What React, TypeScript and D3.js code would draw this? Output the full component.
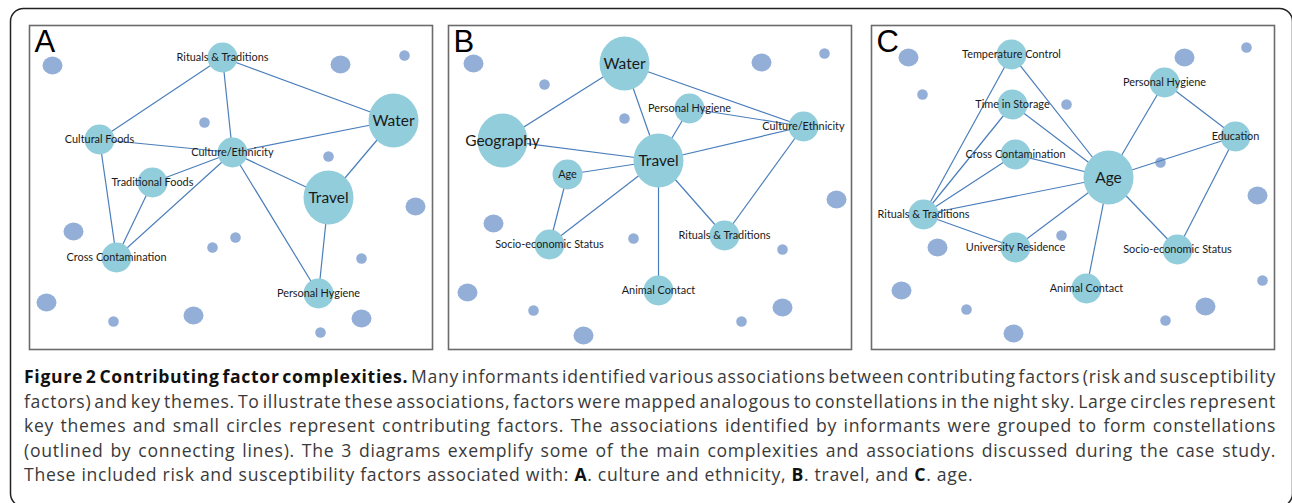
import React from 'react';
import * as d3 from 'd3';

// ---------- DATA ----------
type Kind = 'key' | 'factor';
type NodeD = { id: string; x: number; y: number; kind: Kind };
type Dot = { x: number; y: number; size: 'L' | 'S' };

const panelLetters = ['A', 'B', 'C'];

const nodesA: NodeD[] = [
  { id: 'Rituals & Traditions', x: 193, y: 32, kind: 'factor' },
  { id: 'Water', x: 364, y: 95, kind: 'key' },
  { id: 'Cultural Foods', x: 70, y: 114, kind: 'factor' },
  { id: 'Culture/Ethnicity', x: 203, y: 127, kind: 'factor' },
  { id: 'Traditional Foods', x: 123, y: 157, kind: 'factor' },
  { id: 'Travel', x: 299, y: 172, kind: 'key' },
  { id: 'Cross Contamination', x: 87, y: 232, kind: 'factor' },
  { id: 'Personal Hygiene', x: 289, y: 268, kind: 'factor' },
];
const edgesA: [string, string][] = [
  ['Rituals & Traditions', 'Cultural Foods'],
  ['Rituals & Traditions', 'Culture/Ethnicity'],
  ['Rituals & Traditions', 'Water'],
  ['Cultural Foods', 'Culture/Ethnicity'],
  ['Culture/Ethnicity', 'Water'],
  ['Cultural Foods', 'Cross Contamination'],
  ['Culture/Ethnicity', 'Traditional Foods'],
  ['Culture/Ethnicity', 'Cross Contamination'],
  ['Culture/Ethnicity', 'Travel'],
  ['Culture/Ethnicity', 'Personal Hygiene'],
  ['Traditional Foods', 'Cross Contamination'],
  ['Water', 'Travel'],
  ['Travel', 'Personal Hygiene'],
];
const dotsA: Dot[] = [
  { x: 23, y: 40, size: 'L' }, { x: 311, y: 39, size: 'L' }, { x: 375, y: 30, size: 'S' },
  { x: 175, y: 97, size: 'S' }, { x: 299, y: 131, size: 'S' }, { x: 386, y: 181, size: 'L' },
  { x: 44, y: 206, size: 'L' }, { x: 206, y: 212, size: 'S' }, { x: 183, y: 222, size: 'S' },
  { x: 332, y: 233, size: 'S' }, { x: 17, y: 277, size: 'L' }, { x: 84, y: 296, size: 'S' },
  { x: 164, y: 290, size: 'L' }, { x: 332, y: 293, size: 'L' }, { x: 291, y: 307, size: 'S' },
];

const nodesB: NodeD[] = [
  { id: 'Water', x: 176, y: 38, kind: 'key' },
  { id: 'Geography', x: 54, y: 115, kind: 'key' },
  { id: 'Personal Hygiene', x: 241, y: 83, kind: 'factor' },
  { id: 'Culture/Ethnicity', x: 355, y: 101, kind: 'factor' },
  { id: 'Travel', x: 210, y: 135, kind: 'key' },
  { id: 'Age', x: 119, y: 149, kind: 'factor' },
  { id: 'Socio-economic Status', x: 101, y: 219, kind: 'factor' },
  { id: 'Rituals & Traditions', x: 276, y: 210, kind: 'factor' },
  { id: 'Animal Contact', x: 210, y: 265, kind: 'factor' },
];
const edgesB: [string, string][] = [
  ['Water', 'Geography'],
  ['Water', 'Travel'],
  ['Water', 'Culture/Ethnicity'],
  ['Geography', 'Travel'],
  ['Personal Hygiene', 'Culture/Ethnicity'],
  ['Personal Hygiene', 'Travel'],
  ['Travel', 'Culture/Ethnicity'],
  ['Travel', 'Age'],
  ['Travel', 'Socio-economic Status'],
  ['Travel', 'Rituals & Traditions'],
  ['Travel', 'Animal Contact'],
  ['Age', 'Socio-economic Status'],
  ['Culture/Ethnicity', 'Rituals & Traditions'],
];
const dotsB: Dot[] = [
  { x: 25, y: 38, size: 'L' }, { x: 96, y: 59, size: 'S' }, { x: 313, y: 37, size: 'L' },
  { x: 376, y: 28, size: 'S' }, { x: 176, y: 93, size: 'S' }, { x: 388, y: 174, size: 'L' },
  { x: 45, y: 198, size: 'L' }, { x: 185, y: 213, size: 'S' }, { x: 334, y: 224, size: 'S' },
  { x: 19, y: 267, size: 'L' }, { x: 85, y: 285, size: 'S' }, { x: 135, y: 310, size: 'L' },
  { x: 293, y: 296, size: 'S' }, { x: 334, y: 282, size: 'L' },
];

const nodesC: NodeD[] = [
  { id: 'Temperature Control', x: 140, y: 29, kind: 'factor' },
  { id: 'Time in Storage', x: 141, y: 79, kind: 'factor' },
  { id: 'Cross Contamination', x: 144, y: 129, kind: 'factor' },
  { id: 'Age', x: 237, y: 152, kind: 'key' },
  { id: 'Personal Hygiene', x: 293, y: 57, kind: 'factor' },
  { id: 'Education', x: 364, y: 111, kind: 'factor' },
  { id: 'Rituals & Traditions', x: 52, y: 189, kind: 'factor' },
  { id: 'University Residence', x: 144, y: 222, kind: 'factor' },
  { id: 'Socio-economic Status', x: 306, y: 224, kind: 'factor' },
  { id: 'Animal Contact', x: 215, y: 263, kind: 'factor' },
];
const edgesC: [string, string][] = [
  ['Rituals & Traditions', 'Temperature Control'],
  ['Rituals & Traditions', 'Time in Storage'],
  ['Rituals & Traditions', 'Cross Contamination'],
  ['Rituals & Traditions', 'Age'],
  ['Rituals & Traditions', 'University Residence'],
  ['Temperature Control', 'Age'],
  ['Time in Storage', 'Age'],
  ['Cross Contamination', 'Age'],
  ['University Residence', 'Age'],
  ['Age', 'Animal Contact'],
  ['Age', 'Personal Hygiene'],
  ['Age', 'Education'],
  ['Age', 'Socio-economic Status'],
  ['Personal Hygiene', 'Education'],
  ['Education', 'Socio-economic Status'],
];
const dotsC: Dot[] = [
  { x: 37, y: 32, size: 'L' }, { x: 51, y: 69, size: 'S' }, { x: 313, y: 32, size: 'L' },
  { x: 375, y: 22, size: 'S' }, { x: 195, y: 79, size: 'S' }, { x: 289, y: 137, size: 'S' },
  { x: 386, y: 170, size: 'L' }, { x: 66, y: 222, size: 'L' }, { x: 190, y: 210, size: 'S' },
  { x: 30, y: 265, size: 'L' }, { x: 391, y: 255, size: 'S' }, { x: 95, y: 284, size: 'S' },
  { x: 334, y: 281, size: 'L' }, { x: 294, y: 295, size: 'S' }, { x: 142, y: 308, size: 'L' },
];

const captionLines = [
  '**Figure 2 Contributing factor complexities.** Many informants identified various associations between contributing factors (risk and susceptibility',
  'factors) and key themes. To illustrate these associations, factors were mapped analogous to constellations in the night sky. Large circles represent',
  'key themes and small circles represent contributing factors. The associations identified by informants were grouped to form constellations',
  '(outlined by connecting lines). The 3 diagrams exemplify some of the main complexities and associations discussed during the case study.',
  'These included risk and susceptibility factors associated with: **A**. culture and ethnicity, **B**. travel, and **C**. age.',
];

// ---------- LAYOUT / STYLE ----------
const W = 1292, H = 503;
const PW = 403, PH = 324;
const panelX = [29.5, 448.5, 871.5];
const panelY = 25.5;

const NODE_FILL = '#92CDDC';
const DOT_FILL = '#93AFD8';
const EDGE = '#4A7EBB';
const LABEL_FONT = 'Lato, "Open Sans", sans-serif';
const CAP_FONT = '"Open Sans"';
const CAP_FS = 17.6;
const CAP_LS = 0.7;

const rxScale = d3.scaleOrdinal<string, number>().domain(['key', 'factor', 'L', 'S']).range([25, 15, 10, 5.3]);
const ryScale = d3.scaleOrdinal<string, number>().domain(['key', 'factor', 'L', 'S']).range([27, 15, 9, 5.3]);

function Panel({ i, nodes, edges, dots }: { i: number; nodes: NodeD[]; edges: [string, string][]; dots: Dot[] }) {
  const x = d3.scaleLinear().domain([0, PW]).range([panelX[i], panelX[i] + PW]);
  const y = d3.scaleLinear().domain([0, PH]).range([panelY, panelY + PH]);
  const byId = new Map(nodes.map((n) => [n.id, n]));
  return (
    <g>
      <rect x={x(0)} y={y(0)} width={PW} height={PH} fill="#fff" stroke="#6b6b6b" strokeWidth={1.6} />
      {dots.map((d, k) => (
        <ellipse key={k} cx={x(d.x)} cy={y(d.y)} rx={rxScale(d.size)} ry={ryScale(d.size)} fill={DOT_FILL} />
      ))}
      {edges.map(([a, b], k) => {
        const na = byId.get(a)!, nb = byId.get(b)!;
        return <line key={k} x1={x(na.x)} y1={y(na.y)} x2={x(nb.x)} y2={y(nb.y)} stroke={EDGE} strokeWidth={1.2} />;
      })}
      {nodes.map((n) => (
        <ellipse key={n.id} cx={x(n.x)} cy={y(n.y)} rx={rxScale(n.kind)} ry={ryScale(n.kind)} fill={NODE_FILL} />
      ))}
      {nodes.map((n) => (
        <text
          key={'t' + n.id}
          x={x(n.x)}
          y={y(n.y)}
          dy="0.36em"
          textAnchor="middle"
          fontFamily={LABEL_FONT}
          fontSize={n.kind === 'key' ? 15.5 : 10.9}
          fill="#1a1a1a"
        >
          {n.id}
        </text>
      ))}
      <text x={x(0) + 5} y={y(0) + 26} fontFamily="Liberation Sans, Arial, sans-serif" fontSize={31} fill="#000">
        {panelLetters[i]}
      </text>
    </g>
  );
}

type Seg = { t: string; b: boolean };
function parseLine(s: string): Seg[][] {
  const parts = s.split('**');
  const tokens: Seg[][] = [];
  let cur: Seg[] = [];
  parts.forEach((p, i) => {
    const b = i % 2 === 1;
    const ws = p.split(' ');
    ws.forEach((w, j) => {
      if (j > 0) {
        if (cur.length) tokens.push(cur);
        cur = [];
      }
      if (w) cur.push({ t: w, b });
    });
  });
  if (cur.length) tokens.push(cur);
  return tokens;
}

let ctx: CanvasRenderingContext2D | null = null;
function measure(t: string, b: boolean) {
  if (!ctx) ctx = document.createElement('canvas').getContext('2d');
  ctx!.font = `${b ? 'bold ' : ''}${CAP_FS}px ${CAP_FONT}`;
  return ctx!.measureText(t).width + CAP_LS * t.length;
}

function Caption() {
  const x0 = 24, x1 = 1276;
  const base = 383, lh = 24.6;
  return (
    <g fontFamily={CAP_FONT} fontSize={CAP_FS} letterSpacing={CAP_LS}>
      {captionLines.map((line, li) => {
        const toks = parseLine(line);
        const widths = toks.map((tk) => tk.reduce((s, sg) => s + measure(sg.t, sg.b), 0));
        const total = widths.reduce((a, b) => a + b, 0);
        const last = li === captionLines.length - 1;
        const gap = last ? measure(' ', false) : (x1 - x0 - total) / (toks.length - 1);
        let cx = x0;
        return (
          <g key={li}>
            {toks.map((tk, k) => {
              const px = cx;
              cx += widths[k] + gap;
              return (
                <text key={k} x={px} y={base + li * lh} fill="#3a3a3a">
                  {tk.map((sg, m) => (
                    <tspan key={m} fontWeight={sg.b ? 'bold' : 'normal'} fill={sg.b ? '#111' : '#3a3a3a'}>
                      {sg.t}
                    </tspan>
                  ))}
                </text>
              );
            })}
          </g>
        );
      })}
    </g>
  );
}

export default function App() {
  return (
    <svg width={W} height={H} style={{ position: 'absolute', left: 0, top: 0, background: '#fff' }}>
      <rect x={10.5} y={8.5} width={1282} height={498} rx={13} fill="#fff" stroke="#222" strokeWidth={1.5} />
      <Panel i={0} nodes={nodesA} edges={edgesA} dots={dotsA} />
      <Panel i={1} nodes={nodesB} edges={edgesB} dots={dotsB} />
      <Panel i={2} nodes={nodesC} edges={edgesC} dots={dotsC} />
      <Caption />
    </svg>
  );
}
